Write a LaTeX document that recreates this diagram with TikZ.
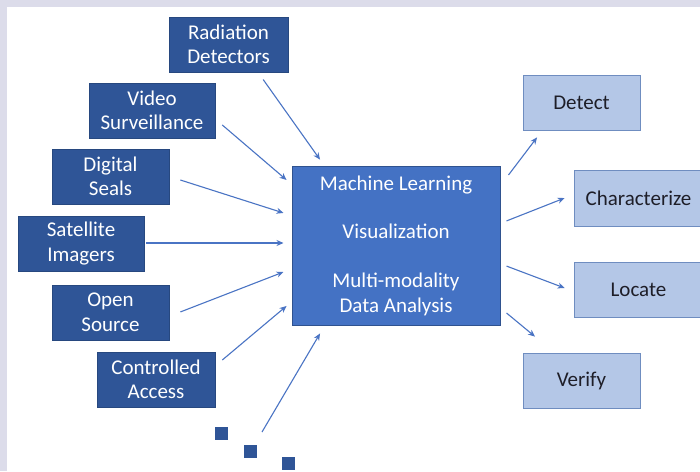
\documentclass[tikz,border=0pt]{standalone}
\usepackage{fontspec}
\setmainfont{Carlito}
\usetikzlibrary{calc,arrows.meta}

\definecolor{darkbox}{HTML}{2F5597}
\definecolor{darkedge}{HTML}{27487F}
\definecolor{midbox}{HTML}{4472C4}
\definecolor{midedge}{HTML}{2F528F}
\definecolor{lightbox}{HTML}{B4C7E7}
\definecolor{lightedge}{HTML}{6F8DC0}
\definecolor{link}{HTML}{4A74C4}
\definecolor{frame}{HTML}{DCDCEA}
\definecolor{inktext}{HTML}{1E1E28}

\tikzset{
  source/.style={draw=darkedge, fill=darkbox, text=white, line width=0.8pt,
    align=center, inner sep=0pt, minimum height=55pt,
    font=\fontsize{21}{24.5}\selectfont},
  hub/.style={draw=midedge, fill=midbox, text=white, line width=1pt,
    align=center, inner sep=0pt, minimum width=208pt, minimum height=159pt,
    font=\fontsize{21}{24.4}\selectfont},
  goal/.style={draw=lightedge, fill=lightbox, text=inktext, line width=0.8pt,
    align=center, inner sep=0pt, minimum height=55pt,
    font=\fontsize{21}{24.5}\selectfont},
  dotbox/.style={fill=darkbox, draw=none, inner sep=0pt, minimum size=13pt},
  feed/.style={draw=link, line width=1.1pt, -{Stealth[length=7pt,width=6pt]}}
}

\begin{document}
\begin{tikzpicture}[x=1pt,y=-1pt]
  \clip (0,0) rectangle (700,471);
  \fill[white] (0,0) rectangle (700,471);
  % frame strips along the top and left edges
  \fill[frame] (0,0) rectangle (700,7);
  \fill[frame] (0,0) rectangle (7,471);

  % input sources
  \node[source, minimum width=119pt] (rad) at (228.5,44.5) {Radiation\\Detectors};
  \node[source, minimum width=126pt] (vid) at (152,110.5) {Video\\Surveillance};
  \node[source, minimum width=117pt] (dig) at (110.5,176.5) {Digital\\Seals};
  \node[source, minimum width=126pt] (sat) at (81,243.5) {Satellite\\Imagers};
  \node[source, minimum width=117pt] (opn) at (110.5,312.5) {Open\\Source};
  \node[source, minimum width=118pt] (ctl) at (156,379.5) {Controlled\\Access};

  % further sources, shown as dots
  \node[dotbox] (d1) at (221,433.5) {};
  \node[dotbox] (d2) at (250.5,451) {};
  \node[dotbox] (d3) at (288,463) {};
  \coordinate (more) at (262,432);

  % analysis hub
  \node[hub] (ml) at (396,245.5) {Machine Learning\\ \\Visualization\\ \\Multi-modality\\Data Analysis};

  % outcomes
  \node[goal, minimum width=117pt] (det) at (581.5,102.5) {Detect};
  \node[goal, minimum width=129pt, minimum height=56pt] (chr) at (638.5,198) {Characterize};
  \node[goal, minimum width=129pt] (loc) at (638.5,289.5) {Locate};
  \node[goal, minimum width=117pt] (ver) at (581.5,380.5) {Verify};

  % sources into the hub
  \draw[feed, shorten <=10pt, shorten >=6pt]
    ($(rad.south)+(28.9,-1)$) -- ($(ml.north)+(-72.5,-1)$);
  \draw[feed, shorten <=9pt, shorten >=6.5pt]
    ($(vid.east)+(0,8.6)$) -- ($(ml.west)+(0,-61.3)$);
  \draw[feed, shorten <=11.5pt, shorten >=8.4pt]
    ($(dig.east)+(0,0)$) -- ($(ml.west)+(0,-30)$);
  \draw[feed, shorten <=2pt, shorten >=8pt]
    ($(sat.east)+(0,-0.5)$) -- ($(ml.west)+(0,-2.5)$);
  \draw[feed, shorten <=11.8pt, shorten >=8.6pt]
    ($(opn.east)+(0,3.7)$) -- ($(ml.west)+(0,23.4)$);
  \draw[feed, shorten <=9pt, shorten >=6.5pt]
    ($(ctl.east)+(0,-13.7)$) -- ($(ml.west)+(0,56.3)$);
  \draw[feed, shorten >=10.4pt]
    (more) -- ($(ml.south)+(-70.7,-1)$);

  % hub to outcomes
  \draw[feed, shorten <=13.2pt, shorten >=10pt]
    ($(ml.east)+(0,-60)$) -- ($(det.south)+(-38.4,-1)$);
  \draw[feed, shorten <=6.4pt, shorten >=9.7pt]
    ($(ml.east)+(0,-22.2)$) -- ($(chr.west)+(0,-3.5)$);
  \draw[feed, shorten <=6.4pt, shorten >=9.6pt]
    ($(ml.east)+(0,18.3)$) -- ($(loc.west)+(0,1.9)$);
  \draw[feed, shorten <=7.8pt, shorten >=23.5pt]
    ($(ml.east)+(0,62.5)$) -- ($(ver.north)+(-28.4,-1)$);
\end{tikzpicture}
\end{document}
